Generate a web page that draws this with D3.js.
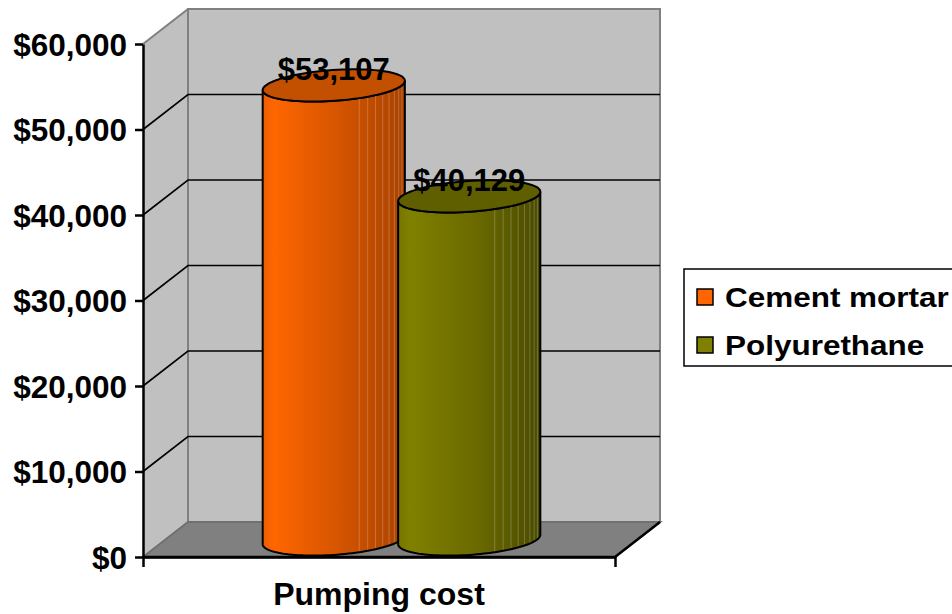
<!DOCTYPE html>
<html>
<head>
<meta charset="utf-8">
<script src="https://cdn.jsdelivr.net/npm/d3@7"></script>
<style>
  html, body { margin: 0; padding: 0; background: #fff; }
  svg { display: block; font-family: "Liberation Sans", Arial, sans-serif; font-weight: bold; }
</style>
</head>
<body>
<div id="chart"></div>
<script>
// chart data
const categories = ["Pumping cost"];
const seriesNames = ["Cement mortar", "Polyurethane"];
const seriesValues = [53107, 40129];
const yTicks = [0, 10000, 20000, 30000, 40000, 50000, 60000];

const width = 952, height = 614;
const DX = 45, DY = 35;              // depth offset of the 3d box
const plotLeft = 143, plotRight = 615;   // front plane x range
const plotBottom = 557, plotTop = 44;    // front plane y range

// body gradient stops / top colour per series
const palette = [
  {light: "#ff6600", edge: "#ec5e00", mid: "#d35400", dark: "#a94200", top: "#c25000"},
  {light: "#808000", edge: "#767600", mid: "#6a6a00", dark: "#4a4a00", top: "#5f5f00"}
];

const svg = d3.select("#chart").append("svg")
    .attr("width", width)
    .attr("height", height);

const y = d3.scaleLinear()
    .domain([0, d3.max(yTicks)])
    .range([plotBottom, plotTop]);

const x0 = d3.scaleBand()
    .domain(categories)
    .range([plotLeft, plotRight]);

const x1 = d3.scaleBand()
    .domain(seriesNames)
    .range([0, x0.bandwidth()])
    .paddingInner(0)
    .paddingOuter(0.742);

const yMax = d3.max(yTicks);

// walls
svg.append("polygon")
    .attr("points", [[plotLeft, y(yMax)], [plotLeft + DX, y(yMax) - DY], [plotLeft + DX, y(0) - DY], [plotLeft, y(0)]].join(" "))
    .attr("fill", "#c0c0c0");

svg.append("rect")
    .attr("x", plotLeft + DX)
    .attr("y", y(yMax) - DY)
    .attr("width", plotRight - plotLeft)
    .attr("height", y(0) - y(yMax))
    .attr("fill", "#c0c0c0")
    .attr("stroke", "#808080")
    .attr("stroke-width", 2);

svg.append("line")
    .attr("x1", plotLeft).attr("y1", y(yMax))
    .attr("x2", plotLeft + DX).attr("y2", y(yMax) - DY)
    .attr("stroke", "#808080").attr("stroke-width", 2);

// floor
svg.append("polygon")
    .attr("points", [[plotLeft, y(0)], [plotRight, y(0)], [plotRight + DX, y(0) - DY], [plotLeft + DX, y(0) - DY]].join(" "))
    .attr("fill", "#808080")
    .attr("stroke", "#707070")
    .attr("stroke-width", 2);

svg.append("path")
    .attr("d", `M${plotLeft},${y(0)}H${plotRight}L${plotRight + DX},${y(0) - DY}`)
    .attr("fill", "none")
    .attr("stroke", "#000")
    .attr("stroke-width", 2.5);

// gridlines
const grid = svg.append("g").attr("stroke", "#000").attr("stroke-width", 1.6);
yTicks.filter(d => d > 0 && d < yMax).forEach(d => {
  grid.append("path")
      .attr("fill", "none")
      .attr("d", `M${plotLeft},${y(d)}L${plotLeft + DX},${y(d) - DY}H${plotRight + DX}`);
});

// cylinders
const R = 68, K = 0.46;
const thStar = Math.atan2(DX * K, R);
const line = d3.line();
const defs = svg.append("defs");

function pt(cx, v, th) {
  const t = 0.5 + K * Math.sin(th);
  return [cx + R * Math.cos(th) + DX * t, y(v) - DY * t];
}

function arc(cx, v, a, b, n) {
  return d3.range(n + 1).map(i => pt(cx, v, a + (b - a) * i / n));
}

seriesNames.forEach((name, i) => {
  const v = seriesValues[i];
  const cx = x0(categories[0]) + x1(name) + x1.bandwidth() / 2;
  const c = palette[i];
  const g = svg.append("g");

  const xl = pt(cx, v, thStar + Math.PI)[0];
  const xr = pt(cx, v, thStar)[0];

  const grad = defs.append("linearGradient")
      .attr("id", "grad" + i)
      .attr("gradientUnits", "userSpaceOnUse")
      .attr("x1", xl).attr("x2", xr)
      .attr("y1", 0).attr("y2", 0);
  grad.append("stop").attr("offset", 0).attr("stop-color", c.edge);
  grad.append("stop").attr("offset", 0.08).attr("stop-color", c.light);
  grad.append("stop").attr("offset", 0.55).attr("stop-color", c.mid);
  grad.append("stop").attr("offset", 1).attr("stop-color", c.dark);

  const body = arc(cx, 0, thStar + Math.PI, thStar + 2 * Math.PI, 60)
      .concat(arc(cx, v, thStar + 2 * Math.PI, thStar + Math.PI, 60));

  defs.append("clipPath").attr("id", "clip" + i)
    .append("path").attr("d", line(body) + "Z");

  g.append("path")
      .attr("d", line(body) + "Z")
      .attr("fill", `url(#grad${i})`);

  // facet lines on the shaded side
  const mid = (xl + xr) / 2, half = (xr - xl) / 2;
  g.append("g")
      .attr("clip-path", `url(#clip${i})`)
    .selectAll("line")
    .data(d3.range(21, 80, 7.5))
    .join("line")
      .attr("x1", d => mid + half * Math.sin(d * Math.PI / 180))
      .attr("x2", d => mid + half * Math.sin(d * Math.PI / 180))
      .attr("y1", y(v) - 60)
      .attr("y2", y(0) + 10)
      .attr("stroke", "#fff")
      .attr("stroke-opacity", 0.22)
      .attr("stroke-width", 1);

  g.append("path")
      .attr("d", line(body) + "Z")
      .attr("fill", "none")
      .attr("stroke", "#000")
      .attr("stroke-width", 2);

  g.append("path")
      .attr("d", line(arc(cx, v, 0, 2 * Math.PI, 90)) + "Z")
      .attr("fill", c.top)
      .attr("stroke", "#000")
      .attr("stroke-width", 2);
});

// data labels
svg.append("g")
  .selectAll("text")
  .data(seriesNames)
  .join("text")
    .attr("x", (d, i) => x0(categories[0]) + x1(d) + x1.bandwidth() / 2 + DX / 2)
    .attr("y", (d, i) => y(seriesValues[i]) - DY / 2 - 5)
    .attr("text-anchor", "middle")
    .attr("font-size", 31)
    .attr("fill", "#000")
    .text((d, i) => d3.format("$,")(seriesValues[i]));

// y axis
const yAxis = svg.append("g")
    .attr("transform", `translate(${plotLeft},0)`)
    .call(d3.axisLeft(y).tickValues(yTicks).tickSize(8).tickSizeOuter(0).tickPadding(8).tickFormat(d3.format("$,")));
yAxis.select(".domain").attr("stroke-width", 2.5);
yAxis.selectAll(".tick line").attr("stroke-width", 2.5);
yAxis.selectAll(".tick text")
    .attr("font-size", 31.5)
    .attr("dy", "0.36em")
    .attr("fill", "#000");
yAxis.attr("font-family", null).attr("font-size", null);

// x axis
const xAxis = svg.append("g")
    .attr("transform", `translate(0,${plotBottom})`)
    .call(d3.axisBottom(x0).tickSize(0).tickSizeOuter(10).tickPadding(0));
xAxis.select(".domain").attr("stroke-width", 2.5);
xAxis.selectAll(".tick text")
    .attr("font-size", 32)
    .attr("y", 48)
    .attr("dy", 0)
    .attr("fill", "#000");
xAxis.attr("font-family", null).attr("font-size", null);

// legend
const legend = svg.append("g");
legend.append("rect")
    .attr("x", 684).attr("y", 269)
    .attr("width", 300).attr("height", 97)
    .attr("fill", "#fff")
    .attr("stroke", "#000")
    .attr("stroke-width", 1.5);

const items = legend.selectAll("g.item")
  .data(seriesNames)
  .join("g")
    .attr("class", "item")
    .attr("transform", (d, i) => `translate(697,${289 + i * 48})`);

items.append("rect")
    .attr("width", 16).attr("height", 16)
    .attr("fill", (d, i) => palette[i].light)
    .attr("stroke", "#000")
    .attr("stroke-width", 1.5);

items.append("text")
    .attr("x", 28)
    .attr("y", 18)
    .attr("font-size", 27)
    .attr("fill", "#000")
    .text(d => d)
    .each(function () {
      const w = this.getComputedTextLength();
      d3.select(this).attr("textLength", w * 1.165).attr("lengthAdjust", "spacingAndGlyphs");
    });
</script>
</body>
</html>
